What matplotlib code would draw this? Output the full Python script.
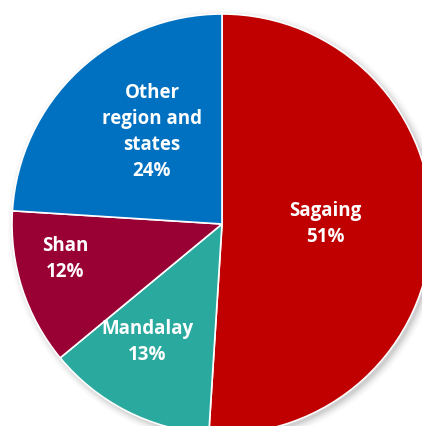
"""pie of share by region, cropped to the frame like the source slide"""
import matplotlib
import numpy as np

matplotlib.use("Agg")
import matplotlib.pyplot as plt  # noqa: E402
from matplotlib.patches import Circle  # noqa: E402

# slices clockwise from 12 o'clock
regions = ["Sagaing", "Mandalay", "Shan", "Other\nregion and\nstates"]
shares = [51, 13, 12, 24]
colors = ["#C00000", "#2AA99F", "#990033", "#0070C0"]

W, H = 422, 427
fig = plt.figure(figsize=(W / 100, H / 100), dpi=100)
ax = fig.add_axes([0, 0, 1, 1])

cx, cy, r = 222, H - 225, 210

# soft drop shadow
for i, a in enumerate(np.linspace(0.05, 0.012, 6)):
    ax.add_patch(Circle((cx + 3, cy - 3), r + 1.5 * i, color="#000000", alpha=a, lw=0, zorder=0))

ax.pie(shares, colors=colors, startangle=90, counterclock=False,
       center=(cx, cy), radius=r, frame=True,
       wedgeprops=dict(edgecolor="white", linewidth=1.2))
ax.set_xlim(0, W)
ax.set_ylim(0, H)
ax.set_aspect("equal")
ax.axis("off")

# label anchor points (image pixel coords of the text centre)
label_xy = [(325, 224), (147, 342), (65, 259), (152, 132)]
for name, pct, (x, y) in zip(regions, shares, label_xy):
    ax.text(x, H - y, f"{name}\n{pct}%", ha="center", va="center", color="white",
            fontsize=13.5, fontweight="bold", family="Open Sans", linespacing=1.4, zorder=5)

fig.savefig("out.png", dpi=100)
